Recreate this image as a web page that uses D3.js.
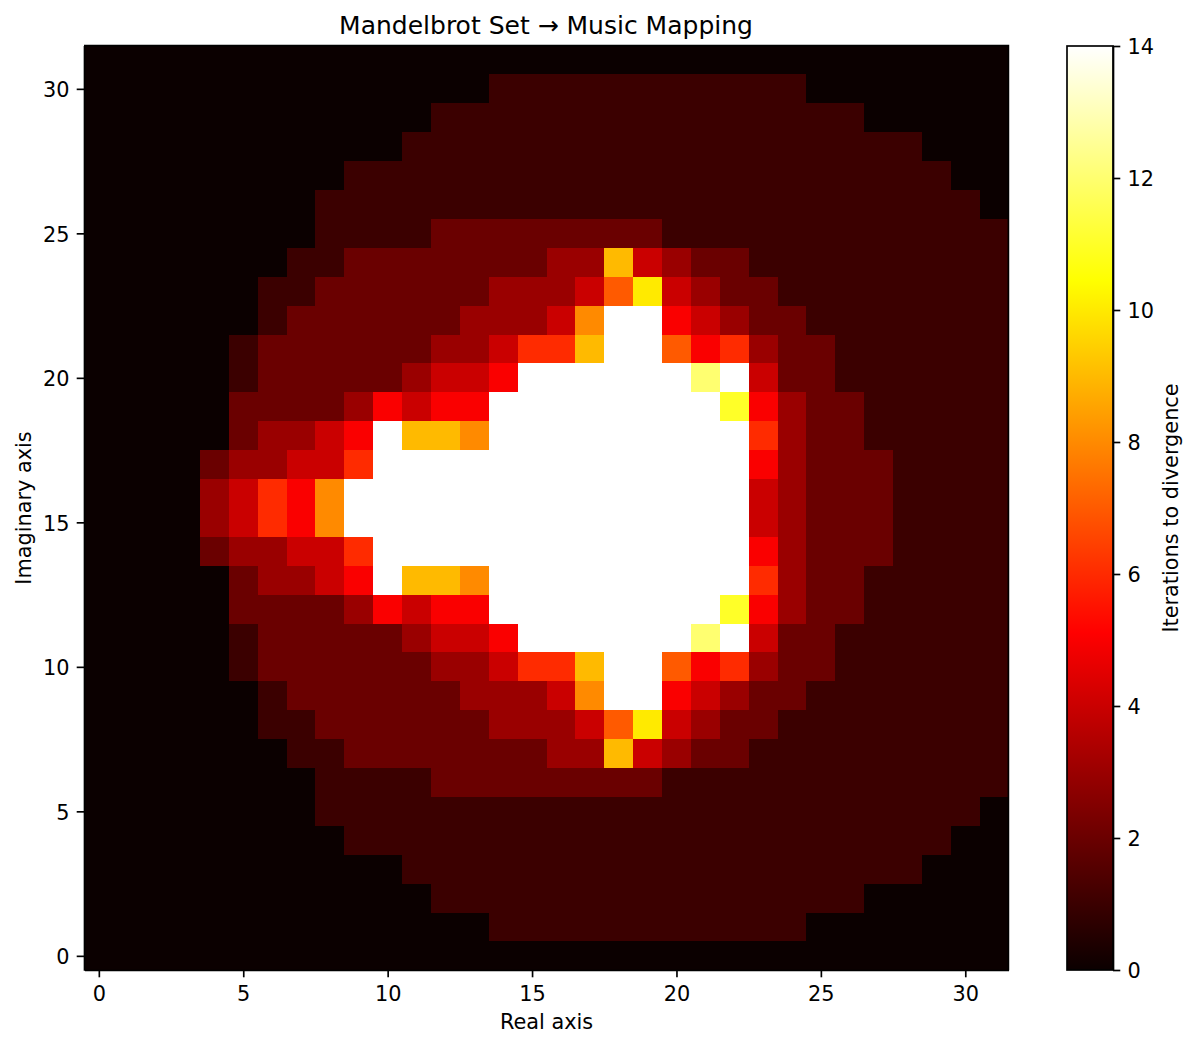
<!DOCTYPE html>
<html lang="en">
	<head>
		<meta charset="utf-8" />
		<title>Mandelbrot Set → Music Mapping</title>
		<style>
			html,body {margin:0;padding:0;background:#fff;}
			svg {display:block;}
			text {font-family:'DejaVu Sans';fill:#000;}
		</style>
	</head>
	<body>
		<script src="https://cdn.jsdelivr.net/npm/d3@7/dist/d3.min.js"></script>
		<script>
			// iterations to divergence, first line is the top row (y=31), last line is y=0
			var iterations = [
				[0,0,0,0,0,0,0,0,0,0,0,0,0,0,0,0,0,0,0,0,0,0,0,0,0,0,0,0,0,0,0,0],
				[0,0,0,0,0,0,0,0,0,0,0,0,0,0,1,1,1,1,1,1,1,1,1,1,1,0,0,0,0,0,0,0],
				[0,0,0,0,0,0,0,0,0,0,0,0,1,1,1,1,1,1,1,1,1,1,1,1,1,1,1,0,0,0,0,0],
				[0,0,0,0,0,0,0,0,0,0,0,1,1,1,1,1,1,1,1,1,1,1,1,1,1,1,1,1,1,0,0,0],
				[0,0,0,0,0,0,0,0,0,1,1,1,1,1,1,1,1,1,1,1,1,1,1,1,1,1,1,1,1,1,0,0],
				[0,0,0,0,0,0,0,0,1,1,1,1,1,1,1,1,1,1,1,1,1,1,1,1,1,1,1,1,1,1,1,0],
				[0,0,0,0,0,0,0,0,1,1,1,1,2,2,2,2,2,2,2,2,1,1,1,1,1,1,1,1,1,1,1,1],
				[0,0,0,0,0,0,0,1,1,2,2,2,2,2,2,2,3,3,9,4,3,2,2,1,1,1,1,1,1,1,1,1],
				[0,0,0,0,0,0,1,1,2,2,2,2,2,2,3,3,3,4,7,10,4,3,2,2,1,1,1,1,1,1,1,1],
				[0,0,0,0,0,0,1,2,2,2,2,2,2,3,3,3,4,8,14,14,5,4,3,2,2,1,1,1,1,1,1,1],
				[0,0,0,0,0,1,2,2,2,2,2,2,3,3,4,6,6,9,14,14,7,5,6,3,2,2,1,1,1,1,1,1],
				[0,0,0,0,0,1,2,2,2,2,2,3,4,4,5,14,14,14,14,14,14,12,14,4,2,2,1,1,1,1,1,1],
				[0,0,0,0,0,2,2,2,2,3,5,4,5,5,14,14,14,14,14,14,14,14,11,5,3,2,2,1,1,1,1,1],
				[0,0,0,0,0,2,3,3,4,5,14,9,9,8,14,14,14,14,14,14,14,14,14,6,3,2,2,1,1,1,1,1],
				[0,0,0,0,2,3,3,4,4,6,14,14,14,14,14,14,14,14,14,14,14,14,14,5,3,2,2,2,1,1,1,1],
				[0,0,0,0,3,4,6,5,8,14,14,14,14,14,14,14,14,14,14,14,14,14,14,4,3,2,2,2,1,1,1,1],
				[0,0,0,0,3,4,6,5,8,14,14,14,14,14,14,14,14,14,14,14,14,14,14,4,3,2,2,2,1,1,1,1],
				[0,0,0,0,2,3,3,4,4,6,14,14,14,14,14,14,14,14,14,14,14,14,14,5,3,2,2,2,1,1,1,1],
				[0,0,0,0,0,2,3,3,4,5,14,9,9,8,14,14,14,14,14,14,14,14,14,6,3,2,2,1,1,1,1,1],
				[0,0,0,0,0,2,2,2,2,3,5,4,5,5,14,14,14,14,14,14,14,14,11,5,3,2,2,1,1,1,1,1],
				[0,0,0,0,0,1,2,2,2,2,2,3,4,4,5,14,14,14,14,14,14,12,14,4,2,2,1,1,1,1,1,1],
				[0,0,0,0,0,1,2,2,2,2,2,2,3,3,4,6,6,9,14,14,7,5,6,3,2,2,1,1,1,1,1,1],
				[0,0,0,0,0,0,1,2,2,2,2,2,2,3,3,3,4,8,14,14,5,4,3,2,2,1,1,1,1,1,1,1],
				[0,0,0,0,0,0,1,1,2,2,2,2,2,2,3,3,3,4,7,10,4,3,2,2,1,1,1,1,1,1,1,1],
				[0,0,0,0,0,0,0,1,1,2,2,2,2,2,2,2,3,3,9,4,3,2,2,1,1,1,1,1,1,1,1,1],
				[0,0,0,0,0,0,0,0,1,1,1,1,2,2,2,2,2,2,2,2,1,1,1,1,1,1,1,1,1,1,1,1],
				[0,0,0,0,0,0,0,0,1,1,1,1,1,1,1,1,1,1,1,1,1,1,1,1,1,1,1,1,1,1,1,0],
				[0,0,0,0,0,0,0,0,0,1,1,1,1,1,1,1,1,1,1,1,1,1,1,1,1,1,1,1,1,1,0,0],
				[0,0,0,0,0,0,0,0,0,0,0,1,1,1,1,1,1,1,1,1,1,1,1,1,1,1,1,1,1,0,0,0],
				[0,0,0,0,0,0,0,0,0,0,0,0,1,1,1,1,1,1,1,1,1,1,1,1,1,1,1,0,0,0,0,0],
				[0,0,0,0,0,0,0,0,0,0,0,0,0,0,1,1,1,1,1,1,1,1,1,1,1,0,0,0,0,0,0,0],
				[0,0,0,0,0,0,0,0,0,0,0,0,0,0,0,0,0,0,0,0,0,0,0,0,0,0,0,0,0,0,0,0]
			];
			var xTicks = [0,5,10,15,20,25,30];
			var yTicks = [0,5,10,15,20,25,30];
			var barTicks = [0,2,4,6,8,10,12,14];
			// matplotlib "hot" colormap stops
			var hotStops = [0,0.365079,0.746032,1];
			var hotColors = ['rgb(11,0,0)','rgb(255,0,0)','rgb(255,255,0)','rgb(255,255,255)'];

			var tickLen = 7.3, tickPad = 7.3, lineW = 1.67, fontSize = 20.83;

			var svg = d3.select('body').append('svg')
				.attr('width',1197)
				.attr('height',1048);

			var x = d3.scaleLinear().domain([-0.5,31.5]).range([84.4,1008.6]);
			var y = d3.scaleLinear().domain([-0.5,31.5]).range([970.3,45.5]);
			var vmax = 14;
			var color = d3.scaleLinear()
				.domain(hotStops.map(function(d) {return d*vmax;}))
				.range(hotColors);

			// heatmap cells
			var cells = [];
			iterations.forEach(function(row,i) {
				row.forEach(function(v,c) {
					cells.push({c:c,r:31-i,v:v});
				});
			});
			svg.append('g').selectAll('rect')
				.data(cells)
				.enter().append('rect')
				.attr('x',function(d) {return Math.round(x(d.c-0.5));})
				.attr('y',function(d) {return Math.round(y(d.r+0.5));})
				.attr('width',function(d) {return Math.round(x(d.c+0.5))-Math.round(x(d.c-0.5));})
				.attr('height',function(d) {return Math.round(y(d.r-0.5))-Math.round(y(d.r+0.5));})
				.attr('fill',function(d) {return color(d.v);})
				.attr('shape-rendering','crispEdges');

			function styleAxis(g) {
				g.selectAll('text').style('font-size',fontSize+'px').style('font-family','DejaVu Sans').attr('fill','#000');
				g.selectAll('line').attr('stroke','#000').attr('stroke-width',lineW);
				g.select('.domain').attr('stroke','#000').attr('stroke-width',lineW);
			}

			var xAxis = d3.axisBottom(x).tickValues(xTicks).tickSize(tickLen).tickPadding(tickPad+1.2).tickSizeOuter(0).tickFormat(d3.format('d'));
			var yAxis = d3.axisLeft(y).tickValues(yTicks).tickSize(tickLen).tickPadding(tickPad).tickSizeOuter(0).tickFormat(d3.format('d'));
			svg.append('g').attr('transform','translate(0,970)').call(xAxis).call(styleAxis);
			svg.append('g').attr('transform','translate(84,0)').call(yAxis).call(styleAxis)
				.selectAll('text').attr('dy','0.38em');

			// top and right spines
			svg.append('path')
				.attr('d','M84,45.7H1008.4V970')
				.attr('fill','none')
				.attr('stroke','#000')
				.attr('stroke-width',lineW);

			svg.append('text')
				.attr('x',546)
				.attr('y',34)
				.attr('text-anchor','middle')
				.style('font-size','25px')
				.text('Mandelbrot Set → Music Mapping');
			svg.append('text')
				.attr('x',546.5)
				.attr('y',1029)
				.attr('text-anchor','middle')
				.style('font-size',fontSize+'px')
				.text('Real axis');
			svg.append('text')
				.attr('transform','translate(31,508) rotate(-90)')
				.attr('text-anchor','middle')
				.style('font-size',fontSize+'px')
				.text('Imaginary axis');

			// colorbar
			var bar = d3.scaleLinear().domain([0,vmax]).range([970,46]);
			var grad = svg.append('defs').append('linearGradient')
				.attr('id','hot')
				.attr('x1',0).attr('y1',1).attr('x2',0).attr('y2',0);
			grad.selectAll('stop')
				.data(hotStops)
				.enter().append('stop')
				.attr('offset',function(d) {return d;})
				.attr('stop-color',function(d,i) {return hotColors[i];});
			svg.append('rect')
				.attr('x',1067)
				.attr('y',bar(vmax))
				.attr('width',46)
				.attr('height',bar(0)-bar(vmax))
				.attr('fill','url(#hot)')
				.attr('stroke','#000')
				.attr('stroke-width',lineW);
			var barAxis = d3.axisRight(bar).tickValues(barTicks).tickSize(tickLen).tickPadding(tickPad).tickSizeOuter(0).tickFormat(d3.format('d'));
			svg.append('g').attr('transform','translate(1113,0)').call(barAxis).call(styleAxis)
				.selectAll('text').attr('dy','0.38em');
			svg.append('text')
				.attr('transform','translate(1178,508) rotate(-90)')
				.attr('text-anchor','middle')
				.style('font-size',fontSize+'px')
				.text('Iterations to divergence');
		</script>
	</body>
</html>
